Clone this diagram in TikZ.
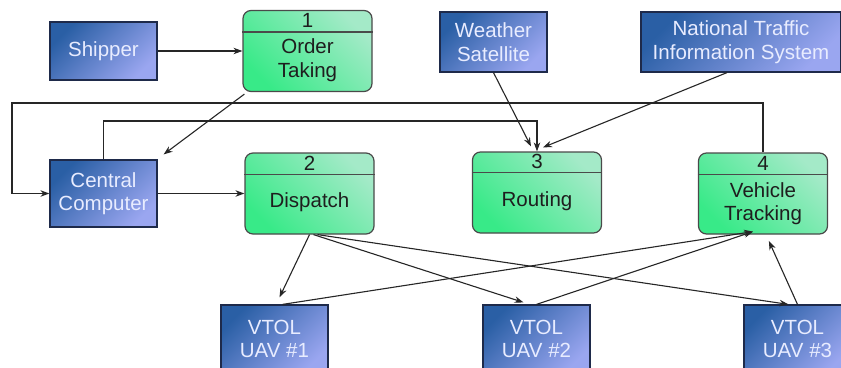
\documentclass[tikz,border=0pt]{standalone}
\usepackage{fontspec}
\setmainfont{Liberation Sans}
\usetikzlibrary{arrows.meta,calc}
\definecolor{bluedark}{HTML}{2A5FA5}
\definecolor{bluelight}{HTML}{9AA6F0}
\definecolor{extline}{HTML}{1E2A4A}
\definecolor{exttext}{HTML}{E8ECFF}
\definecolor{greenlight}{HTML}{A4EAC8}
\definecolor{greendark}{HTML}{38EA88}
\definecolor{procline}{HTML}{4A4A4A}
\definecolor{proctext}{HTML}{1E1E1E}
\begin{document}
\begin{tikzpicture}[x=1pt,y=-1pt,
  txt/.style={font=\fontsize{20.5}{23.5}\selectfont, align=center, inner sep=0pt},
  ext/.style={txt, draw=extline, line width=1.2pt, top color=bluedark,
    bottom color=bluelight, shading angle=45, text=exttext,
    minimum width=107pt},
  proc/.style={draw=procline, line width=1.2pt, rounded corners=8pt,
    top color=greenlight, bottom color=greendark, shading angle=-45,
    minimum width=129pt, minimum height=81pt, inner sep=0pt},
  divider/.style={draw=procline, line width=1.2pt},
  ptxt/.style={txt, text=proctext},
  flow/.style={draw=black!85, line width=1.1pt,
    -{Stealth[length=9pt,width=6.5pt]}},
  plain/.style={draw=black!85, line width=1.1pt}]
\clip (0,0) rectangle (841,367);
\fill[white] (0,0) rectangle (841,367);

% external entities
\node[ext, minimum height=58pt] (sh) at (103.5,51) {Shipper};
\node[ext, minimum height=60pt] (ws) at (493.5,42) {Weather\\Satellite};
\node[ext, minimum width=200pt, minimum height=60pt] (nt) at (741,42)
  {National Traffic\\Information System};
\node[ext, minimum height=67pt] (cc) at (103.5,193.5) {Central\\Computer};
\node[ext, minimum height=68pt] (u1) at (274.5,339) {VTOL\\UAV \#1};
\node[ext, minimum height=68pt] (u2) at (536.5,339) {VTOL\\UAV \#2};
\node[ext, minimum height=68pt] (u3) at (797.5,339) {VTOL\\UAV \#3};

% processes
\node[proc] (ot) at (307.5,51) {};
\draw[divider] ($(ot.north west)+(0,22)$) -- ($(ot.north east)+(0,22)$);
\node[ptxt] (otn) at ($(ot.north)+(0,11)$) {1};
\node[ptxt] (ott) at ($(ot.center)+(0,9)$) {Order\\Taking};

\node[proc] (ds) at (309.5,193.5) {};
\draw[divider] ($(ds.north west)+(0,22)$) -- ($(ds.north east)+(0,22)$);
\node[ptxt] (dsn) at ($(ds.north)+(0,11)$) {2};
\node[ptxt] (dst) at ($(ds.center)+(0,9)$) {Dispatch};

\node[proc] (rt) at (537,192.5) {};
\draw[divider] ($(rt.north west)+(0,21)$) -- ($(rt.north east)+(0,21)$);
\node[ptxt] (rtn) at ($(rt.north)+(0,10.5)$) {3};
\node[ptxt] (rtt) at ($(rt.center)+(0,9)$) {Routing};

\node[proc] (vt) at (763,193.5) {};
\draw[divider] ($(vt.north west)+(0,22)$) -- ($(vt.north east)+(0,22)$);
\node[ptxt] (vtn) at ($(vt.north)+(0,11)$) {4};
\node[ptxt] (vtt) at ($(vt.center)+(0,10)$) {Vehicle\\Tracking};

% bends of the two feedback loops
\coordinate (loopL) at (12,103);
\coordinate (loopR) at (537,121);

% flows
\draw[flow] (sh.east) -- (ot.west);
\draw[flow] ($(ot.south west)+(2,2)$) -- ($(cc.north east)+(6,-5)$);
\draw[flow] (vt.north) |- (loopL) |- (cc.west);
\draw[flow] (cc.north) |- (loopR) -- (rt.north);
\draw[flow] (ws.south) -- ($(rt.north)+(-6,-5)$);
\draw[flow] ($(nt.south)+(-14,0)$) -- ($(rt.north)+(6,-4)$);
\draw[flow] (cc.east) -- (ds.west);
\draw[flow] (ds.south) -- ($(u1.north)+(5,-7)$);
\draw[flow] ($(ds.south)+(4,0)$) -- ($(u2.north)+(-13,-2)$);
\draw[flow] ($(ds.south)+(8,0)$) -- ($(u3.north)+(-9,0)$);
\draw[flow] ($(u1.north)+(8,0)$) -- ($(vt.south)+(-10,-3)$);
\draw[flow] (u2.north) -- ($(vt.south)+(-10,-3)$);
\draw[flow, shorten >=7pt] (u3.north) -- ($(vt.south)+(3,0)$);
\end{tikzpicture}
\end{document}
